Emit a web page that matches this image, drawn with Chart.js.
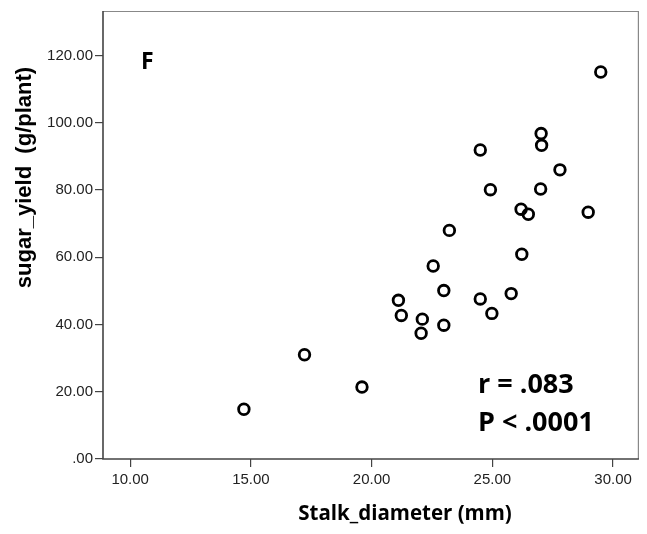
<!DOCTYPE html>
<html>
<head>
<meta charset="utf-8">
<script src="https://cdn.jsdelivr.net/npm/chart.js@4.4.0/dist/chart.umd.min.js"></script>
<style>
  html, body { margin: 0; padding: 0; background: #fff; }
  #wrap { width: 647px; height: 534px; }
</style>
</head>
<body>
<div id="wrap"><canvas id="scatterChart" width="647" height="534"></canvas></div>
<script>
// values
const stalkDiameter = [27.02, 27.04, 24.50, 27.80, 24.92, 27.00, 26.19, 26.49, 28.97, 23.22,
  26.22, 22.55, 22.99, 24.50, 25.78, 21.11, 21.23, 22.10, 22.99, 24.98,
  22.05, 17.22, 19.60, 14.71, 29.49];
const sugarYield = [96.8, 93.3, 91.9, 86.0, 80.1, 80.3, 74.3, 72.8, 73.4, 68.0,
  60.9, 57.4, 50.1, 47.6, 49.2, 47.2, 42.7, 41.6, 39.8, 43.3,
  37.4, 31.0, 21.4, 14.8, 115.1];
const xTicks = [10, 15, 20, 25, 30];
const yTicks = [0, 20, 40, 60, 80, 100, 120];

document.addEventListener("DOMContentLoaded", function () {
  const ctx = document.getElementById("scatterChart").getContext("2d");

  const points = stalkDiameter.map((x, i) => ({ x: x, y: sugarYield[i] }));

  const fmt = (v) => (v === 0 ? ".00" : v.toFixed(2));

  // frame, panel letter, stats and axis titles
  const decorations = {
    id: "decorations",
    beforeDatasetsDraw(chart) {
      const c = chart.ctx;
      const a = chart.chartArea;
      c.save();
      c.lineWidth = 1.2;
      c.strokeStyle = "#888";
      c.beginPath();
      c.moveTo(a.left, a.top + 0.5);
      c.lineTo(a.right - 0.5, a.top + 0.5);
      c.lineTo(a.right - 0.5, a.bottom);
      c.stroke();
      c.lineWidth = 1.6;
      c.strokeStyle = "#444";
      c.beginPath();
      c.moveTo(a.left, a.top);
      c.lineTo(a.left, a.bottom);
      c.lineTo(a.right, a.bottom);
      c.stroke();
      c.restore();
    },
    afterDraw(chart) {
      const c = chart.ctx;
      c.save();
      c.fillStyle = "#000";
      c.textBaseline = "alphabetic";
      c.textAlign = "left";
      c.font = "bold 23px 'Open Sans'";
      c.fillText("F", 141, 69);
      c.font = "bold 27px 'Open Sans'";
      c.fillText("r = .083", 478, 393);
      c.fillText("P < .0001", 478, 431);

      c.font = "bold 20.5px 'Open Sans'";
      c.textAlign = "center";
      c.fillText("Stalk_diameter (mm)", 405, 520);

      c.translate(31, 177.5);
      c.rotate(-Math.PI / 2);
      c.font = "bold 22px 'Liberation Sans'";
      c.fillText("sugar_yield  (g/plant)", 0, 0);
      c.restore();
    },
  };

  const config = {
    type: "scatter",
    data: {
      datasets: [
        {
          data: points,
          pointRadius: 5.3,
          pointHoverRadius: 5.3,
          pointBorderWidth: 2.8,
          pointBorderColor: "#000",
          pointBackgroundColor: "rgba(255,255,255,0)",
        },
      ],
    },
    options: {
      responsive: false,
      animation: false,
      layout: { padding: { top: 7, right: 6, left: 0, bottom: 0 } },
      plugins: {
        legend: { display: false },
        tooltip: { enabled: false },
      },
      scales: {
        x: {
          type: "linear",
          min: 8.874,
          max: 31.07,
          afterBuildTicks: (scale) => {
            scale.ticks = xTicks.map((v) => ({ value: v }));
          },
          afterFit: (scale) => {
            scale.height = 75;
          },
          border: { display: false },
          grid: {
            drawOnChartArea: false,
            drawTicks: true,
            tickLength: 8,
            color: "#444",
            lineWidth: 1.2,
          },
          ticks: {
            padding: 4,
            color: "#222",
            font: { family: "'Liberation Sans'", size: 15 },
            callback: (v) => fmt(v),
          },
        },
        y: {
          type: "linear",
          min: 0,
          max: 133.25,
          afterBuildTicks: (scale) => {
            scale.ticks = yTicks.map((v) => ({ value: v }));
          },
          afterFit: (scale) => {
            scale.width = 103;
          },
          border: { display: false },
          grid: {
            drawOnChartArea: false,
            drawTicks: true,
            tickLength: 8,
            color: "#444",
            lineWidth: 1.2,
          },
          ticks: {
            padding: 2,
            color: "#222",
            font: { family: "'Liberation Sans'", size: 15 },
            callback: (v) => fmt(v),
          },
        },
      },
    },
    plugins: [decorations],
  };

  new Chart(ctx, config);
});
</script>
</body>
</html>
